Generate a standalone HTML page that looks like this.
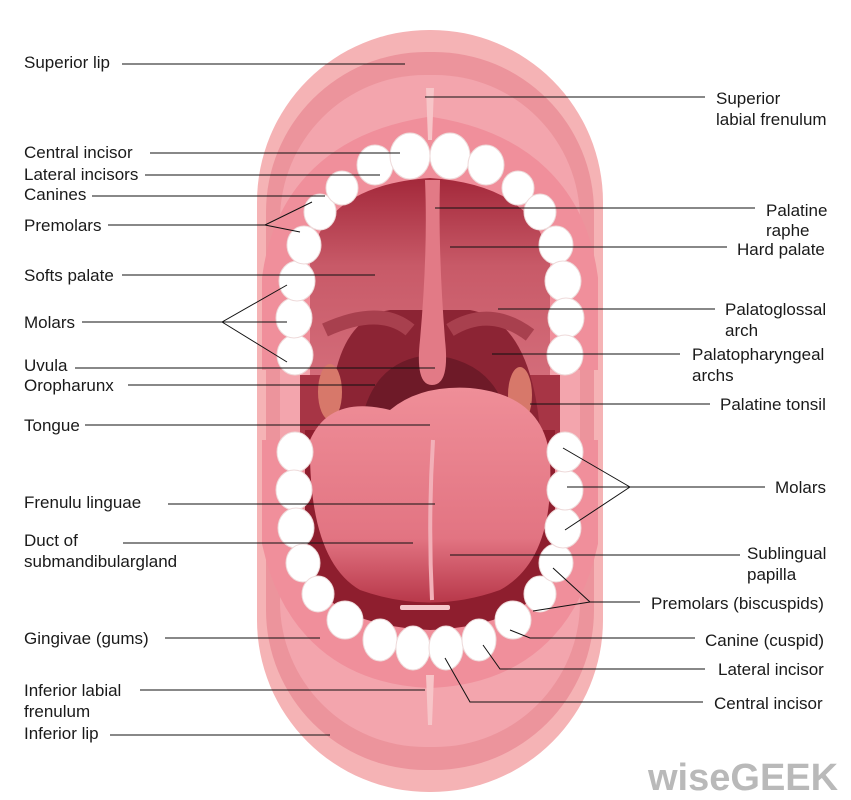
<!DOCTYPE html>
<html><head><meta charset="utf-8"><style>
html,body{margin:0;padding:0;background:#fff;}
svg{display:block;}
text{font-family:"Liberation Sans",sans-serif;font-size:17px;fill:#1a1a1a;}
</style></head><body>
<svg width="851" height="800" viewBox="0 0 851 800" xmlns="http://www.w3.org/2000/svg">
<defs>
<linearGradient id="pal" x1="0" y1="0" x2="0" y2="1">
<stop offset="0" stop-color="#a3283a"/><stop offset="0.35" stop-color="#c85a68"/><stop offset="1" stop-color="#d97582"/>
</linearGradient>
<linearGradient id="ton" x1="0" y1="0" x2="0" y2="1">
<stop offset="0" stop-color="#ef8e98"/><stop offset="0.7" stop-color="#e27482"/><stop offset="1" stop-color="#b8384a"/>
</linearGradient>
</defs>
<rect x="257" y="30" width="346" height="762" rx="172" fill="#f5b3b5"/>
<rect x="266" y="52" width="328" height="718" rx="160" fill="#ec949c"/>
<rect x="280" y="75" width="300" height="672" rx="145" fill="#f3a5ad"/>
<path d="M295 370 L295 280 Q310 170 430 150 Q550 170 565 280 L565 370" fill="none" stroke="#f08f9b" stroke-width="66"/>
<path d="M295 440 L295 540 Q320 650 430 655 Q540 650 565 540 L565 440" fill="none" stroke="#f08f9b" stroke-width="66"/>
<path d="M310 380 L310 260 Q325 185 430 178 Q535 185 550 260 L550 380 L550 430 L310 430 Z" fill="url(#pal)"/>
<rect x="300" y="375" width="260" height="60" fill="#a73545"/>
<path d="M330 430 Q330 320 390 310 L470 310 Q530 320 540 430 Z" fill="#8c2434"/>
<path d="M360 430 Q370 360 430 355 Q500 360 510 430 Z" fill="#6e1a28"/>
<path d="M325 330 Q380 305 410 330" fill="none" stroke="#a8404e" stroke-width="14"/>
<path d="M450 330 Q490 305 530 335" fill="none" stroke="#a8404e" stroke-width="14"/>
<path d="M425 180 L440 180 Q438 250 445 340 Q450 385 432 385 Q415 385 420 340 Q428 250 425 180 Z" fill="#e27a86"/>
<ellipse cx="330" cy="392" rx="12" ry="28" fill="#d7786a"/>
<ellipse cx="520" cy="395" rx="12" ry="28" fill="#d7786a"/>
<path d="M305 430 L555 430 L555 560 Q540 625 430 630 Q320 625 305 560 Z" fill="#8e1e2e"/>
<path d="M310 440 Q330 395 390 410 Q420 385 470 388 Q545 395 550 460 Q555 560 500 590 Q430 615 360 590 Q308 560 310 440 Z" fill="url(#ton)"/>
<path d="M433 440 Q428 520 432 600" stroke="#f2b0b8" stroke-width="4" fill="none"/>
<rect x="400" y="605" width="50" height="5" rx="2" fill="#f5c8cc"/>
<g fill="#ffffff" stroke="#eedada" stroke-width="1">
<ellipse cx="295" cy="355" rx="18" ry="20"/><ellipse cx="294" cy="318" rx="18" ry="20"/><ellipse cx="297" cy="281" rx="18" ry="20"/><ellipse cx="304" cy="245" rx="17" ry="19"/><ellipse cx="320" cy="212" rx="16" ry="18"/><ellipse cx="342" cy="188" rx="16" ry="17"/><ellipse cx="375" cy="165" rx="18" ry="20"/><ellipse cx="410" cy="156" rx="20" ry="23"/><ellipse cx="450" cy="156" rx="20" ry="23"/><ellipse cx="486" cy="165" rx="18" ry="20"/><ellipse cx="518" cy="188" rx="16" ry="17"/><ellipse cx="540" cy="212" rx="16" ry="18"/><ellipse cx="556" cy="245" rx="17" ry="19"/><ellipse cx="563" cy="281" rx="18" ry="20"/><ellipse cx="566" cy="318" rx="18" ry="20"/><ellipse cx="565" cy="355" rx="18" ry="20"/>
<ellipse cx="295" cy="452" rx="18" ry="20"/><ellipse cx="294" cy="490" rx="18" ry="20"/><ellipse cx="296" cy="528" rx="18" ry="20"/><ellipse cx="303" cy="563" rx="17" ry="19"/><ellipse cx="318" cy="594" rx="16" ry="18"/><ellipse cx="345" cy="620" rx="18" ry="19"/><ellipse cx="380" cy="640" rx="17" ry="21"/><ellipse cx="413" cy="648" rx="17" ry="22"/><ellipse cx="446" cy="648" rx="17" ry="22"/><ellipse cx="479" cy="640" rx="17" ry="21"/><ellipse cx="513" cy="620" rx="18" ry="19"/><ellipse cx="540" cy="594" rx="16" ry="18"/><ellipse cx="556" cy="563" rx="17" ry="19"/><ellipse cx="563" cy="528" rx="18" ry="20"/><ellipse cx="565" cy="490" rx="18" ry="20"/><ellipse cx="565" cy="452" rx="18" ry="20"/>
</g>
<path d="M426 88 L434 88 L432 140 L428 140 Z" fill="#f7c5c8"/>
<path d="M426 675 L434 675 L432 725 L428 725 Z" fill="#f7c5c8"/>
<g stroke="#111" stroke-width="1" fill="none">
<path d="M122 64H405"/><path d="M425 97H705"/>
<path d="M150 153H400"/><path d="M145 175H380"/><path d="M92 196H325"/>
<path d="M108 225H265L312 202M265 225L300 232"/>
<path d="M122 275H375"/>
<path d="M82 322H222L287 285M222 322L287 322M222 322L287 362"/>
<path d="M75 368H435"/><path d="M128 385H375"/><path d="M85 425H430"/>
<path d="M168 504H435"/><path d="M123 543H413"/><path d="M165 638H320"/>
<path d="M140 690H425"/><path d="M110 735H330"/>
<path d="M435 208H755"/><path d="M450 247H727"/><path d="M498 309H715"/>
<path d="M492 354H680"/><path d="M530 404H710"/>
<path d="M630 487H765M630 487L563 448M630 487L567 487M630 487L565 530"/>
<path d="M450 555H740"/>
<path d="M590 602H640M590 602L553 568M590 602L533 611"/>
<path d="M510 630L530 638H695"/>
<path d="M483 645L500 669H705"/>
<path d="M445 658L470 702H703"/>
</g>
<text x="24" y="68">Superior lip</text>
<text x="24" y="158">Central incisor</text>
<text x="24" y="180">Lateral incisors</text>
<text x="24" y="200">Canines</text>
<text x="24" y="231">Premolars</text>
<text x="24" y="281">Softs palate</text>
<text x="24" y="328">Molars</text>
<text x="24" y="371">Uvula</text>
<text x="24" y="391">Oropharunx</text>
<text x="24" y="431">Tongue</text>
<text x="24" y="508">Frenulu linguae</text>
<text x="24" y="546">Duct of</text>
<text x="24" y="567">submandibulargland</text>
<text x="24" y="644">Gingivae (gums)</text>
<text x="24" y="696">Inferior labial</text>
<text x="24" y="717">frenulum</text>
<text x="24" y="739">Inferior lip</text>
<text x="716" y="104">Superior</text>
<text x="716" y="125">labial frenulum</text>
<text x="766" y="216">Palatine</text>
<text x="766" y="236">raphe</text>
<text x="737" y="255">Hard palate</text>
<text x="725" y="315">Palatoglossal</text>
<text x="725" y="336">arch</text>
<text x="692" y="360">Palatopharyngeal</text>
<text x="692" y="381">archs</text>
<text x="720" y="410">Palatine tonsil</text>
<text x="775" y="493">Molars</text>
<text x="747" y="559">Sublingual</text>
<text x="747" y="580">papilla</text>
<text x="651" y="609">Premolars (biscuspids)</text>
<text x="705" y="646">Canine (cuspid)</text>
<text x="718" y="675">Lateral incisor</text>
<text x="714" y="709">Central incisor</text>
<text x="648" y="790" style="font-size:38px;font-weight:bold;fill:#b9b9b9">wiseGEEK</text>
</svg>
</body></html>
